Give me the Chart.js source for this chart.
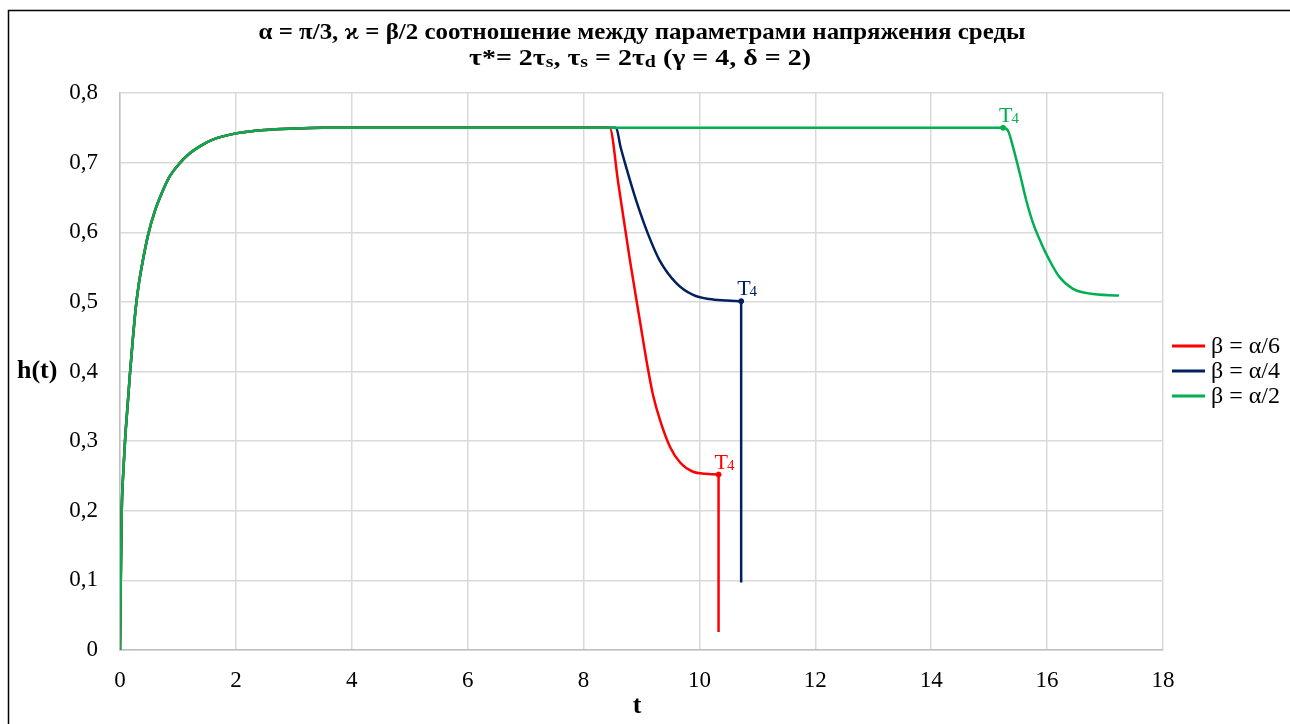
<!DOCTYPE html>
<html><head><meta charset="utf-8">
<script src="https://cdn.jsdelivr.net/npm/chart.js@4/dist/chart.umd.min.js"></script>
<style>html,body{margin:0;padding:0;background:#fff;} canvas{display:block}</style>
</head><body>
<canvas id="c" width="1290" height="724" style="width:1290px;height:724px"></canvas>
<script>
// ---- data ----
const seriesLabels = ['β = α/6', 'β = α/4', 'β = α/2'];
const seriesColors = ['#FF0000', '#002060', '#00B050'];

// common rising part h(t)
const riseT = [0, 0.01, 0.03, 0.06, 0.09, 0.13, 0.17, 0.22, 0.27, 0.32, 0.38, 0.49, 0.6, 0.72, 0.85, 1.04, 1.2, 1.39, 1.6, 2.0, 2.5, 3.0, 3.5, 4.0];
const riseH = [0, 0.08, 0.2, 0.26, 0.305, 0.35, 0.395, 0.445, 0.49, 0.523, 0.553, 0.598, 0.63, 0.656, 0.679, 0.700, 0.713, 0.724, 0.733, 0.742, 0.747, 0.749, 0.75, 0.75];

// β = α/6
const redT = [8.45, 8.6, 8.8, 8.97, 9.1, 9.2, 9.32, 9.49, 9.67, 9.89, 10.1, 10.33, 10.33];
const redH = [0.75, 0.67, 0.56, 0.474, 0.409, 0.366, 0.33, 0.292, 0.269, 0.256, 0.253, 0.252, 0.026];
// β = α/4
const blueT = [8.56, 8.64, 8.74, 8.91, 9.11, 9.31, 9.6, 9.89, 10.17, 10.45, 10.72, 10.72];
const blueH = [0.75, 0.722, 0.692, 0.645, 0.598, 0.56, 0.527, 0.51, 0.504, 0.502, 0.501, 0.097];
// β = α/2
const greenT = [15.24, 15.33, 15.41, 15.53, 15.64, 15.75, 15.9, 16.04, 16.21, 16.44, 16.73, 17.24];
const greenH = [0.75, 0.745, 0.723, 0.684, 0.646, 0.615, 0.584, 0.56, 0.536, 0.519, 0.512, 0.509];

// T4 points
const t4T = [10.33, 10.72, 15.24];
const t4H = [0.252, 0.501, 0.75];

const xTicks = [0, 2, 4, 6, 8, 10, 12, 14, 16, 18];
const yTicks = [0, 0.1, 0.2, 0.3, 0.4, 0.5, 0.6, 0.7, 0.8];

// ---- build ----
const pts = (ts, hs) => ts.map((t, i) => ({x: t, y: hs[i]}));
const tails = [[redT, redH], [blueT, blueH], [greenT, greenH]];
const SERIF = "'Liberation Serif', 'Times New Roman', serif";

const lineSets = tails.map((tl, i) => ({
  label: seriesLabels[i],
  data: pts(riseT.concat(tl[0]), riseH.concat(tl[1])),
  borderColor: seriesColors[i],
  backgroundColor: seriesColors[i],
  borderWidth: 2.5,
  pointRadius: 0,
  fill: false,
  cubicInterpolationMode: 'monotone',
  order: i === 2 ? 1 : 2
}));
const markerSets = t4T.map((t, i) => ({
  label: 'T4-' + i,
  data: [{x: t, y: t4H[i]}],
  showLine: false,
  pointRadius: 2.5,
  pointBackgroundColor: seriesColors[i],
  pointBorderColor: seriesColors[i],
  order: 0,
  isMarker: true
}));

function drawRich(ctx, parts, cx, baseline, size, bold, targetW) {
  const f = (s) => (bold ? 'bold ' : '') + s + 'px ' + SERIF;
  const subSize = Math.round(size * 0.72);
  let w = 0;
  parts.forEach(p => { ctx.font = f(p.sub ? subSize : size); w += ctx.measureText(p.t).width; });
  const k = targetW ? targetW / w : 1;
  ctx.save();
  ctx.translate(cx - (w * k) / 2, baseline);
  ctx.scale(k, 1);
  ctx.textAlign = 'left';
  ctx.textBaseline = 'alphabetic';
  let x = 0;
  parts.forEach(p => {
    ctx.font = f(p.sub ? subSize : size);
    ctx.fillText(p.t, x, p.sub ? size * 0.1 : 0);
    x += ctx.measureText(p.t).width;
  });
  ctx.restore();
}

const decor = {
  id: 'decor',
  beforeDraw(chart) {
    const ctx = chart.ctx;
    ctx.save();
    ctx.fillStyle = '#fff';
    ctx.fillRect(0, 0, chart.width, chart.height);
    ctx.strokeStyle = '#000';
    ctx.lineWidth = 1.5;
    ctx.beginPath();
    ctx.moveTo(8.5, 724); ctx.lineTo(8.5, 10.5); ctx.lineTo(1290, 10.5);
    ctx.stroke();
    ctx.restore();
  },
  afterDatasetsDraw(chart) {
    const ctx = chart.ctx;
    const xs = chart.scales.x, ys = chart.scales.y;
    ctx.save();
    t4T.forEach((t, i) => {
      const px = xs.getPixelForValue(t), py = ys.getPixelForValue(t4H[i]);
      ctx.fillStyle = seriesColors[i];
      ctx.textAlign = 'left';
      ctx.textBaseline = 'alphabetic';
      ctx.font = '22px ' + SERIF;
      ctx.fillText('T', px - 4, py - 6);
      const w = ctx.measureText('T').width;
      ctx.font = '15px ' + SERIF;
      ctx.fillText('4', px - 4 + w - 1, py - 5);
    });
    ctx.restore();
  },
  afterDraw(chart) {
    const ctx = chart.ctx;
    ctx.save();
    ctx.fillStyle = '#000';
    // title
    drawRich(ctx, [{t: 'α = π/3, ϰ = β/2 соотношение между параметрами напряжения среды'}], 642, 39, 24, true, 767);
    drawRich(ctx, [{t: 'τ*= 2τ'}, {t: 's', sub: true}, {t: ', τ'}, {t: 's', sub: true}, {t: ' = 2τ'}, {t: 'd', sub: true}, {t: ' (γ = 4, δ = 2)'}], 640, 65, 24, true, 342);
    // axis titles
    ctx.font = 'bold 26px ' + SERIF;
    ctx.textBaseline = 'middle';
    ctx.textAlign = 'left';
    ctx.fillText('h(t)', 17, 371);
    ctx.textAlign = 'center';
    ctx.fillText('t', 637, 706);
    // legend
    chart.data.datasets.filter(d => !d.isMarker).forEach((d, i) => {
      const y = 346 + i * 25;
      ctx.strokeStyle = d.borderColor;
      ctx.lineWidth = 3;
      ctx.beginPath(); ctx.moveTo(1172, y); ctx.lineTo(1205, y); ctx.stroke();
      ctx.fillStyle = '#000';
      ctx.font = '24px ' + SERIF;
      ctx.textAlign = 'left';
      ctx.textBaseline = 'middle';
      ctx.fillText(d.label, 1211, y + 1);
    });
    ctx.restore();
  }
};

new Chart(document.getElementById('c'), {
  type: 'line',
  data: {datasets: lineSets.concat(markerSets)},
  options: {
    responsive: false,
    devicePixelRatio: 1,
    animation: false,
    layout: {padding: {top: 93, right: 127, left: 0, bottom: 0}},
    plugins: {legend: {display: false}, title: {display: false}, tooltip: {enabled: false}},
    scales: {
      x: {
        type: 'linear', min: 0, max: 18,
        afterBuildTicks: (s) => { s.ticks = xTicks.map(v => ({value: v})); },
        afterFit: (s) => { s.height = 74; },
        ticks: {font: {family: SERIF, size: 23}, color: '#000', padding: 17, maxRotation: 0},
        grid: {color: '#d9d9d9', lineWidth: 1.5, drawTicks: false},
        border: {color: '#bfbfbf', width: 1.5}
      },
      y: {
        type: 'linear', min: 0, max: 0.8,
        afterBuildTicks: (s) => { s.ticks = yTicks.map(v => ({value: v})); },
        afterFit: (s) => { s.width = 120; },
        ticks: {font: {family: SERIF, size: 23}, color: '#000', padding: 22,
          callback: (v) => v === 0 ? '0' : v.toFixed(1).replace('.', ',')},
        grid: {color: '#d9d9d9', lineWidth: 1.5, drawTicks: false},
        border: {color: '#bfbfbf', width: 1.5}
      }
    }
  },
  plugins: [decor]
});
</script>
</body></html>
